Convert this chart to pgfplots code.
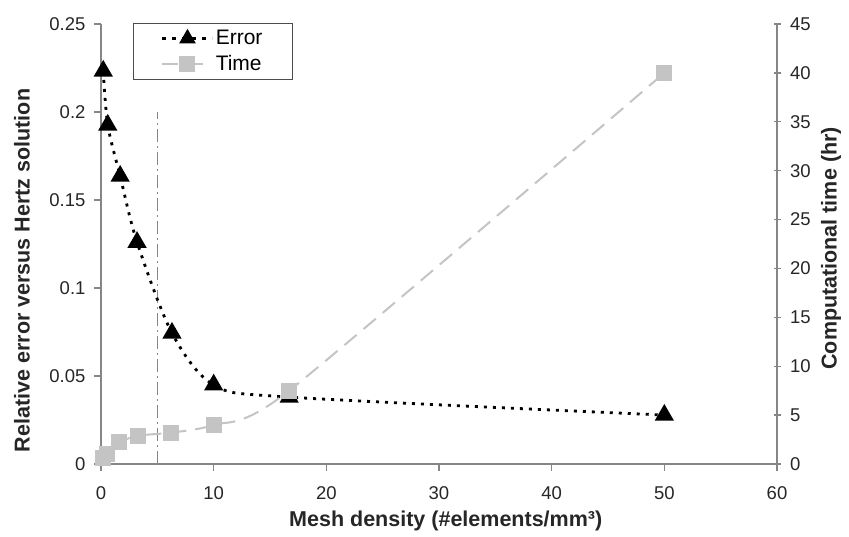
\documentclass[border=0pt]{standalone}
\usepackage{pgfplots}
\pgfplotsset{compat=1.18}
\usepackage{fontspec}
\setmainfont{Liberation Sans}
\definecolor{axgray}{HTML}{868686}
\definecolor{timegray}{HTML}{C4C4C4}
\begin{document}
\begin{tikzpicture}
\pgfplotsset{
  common/.style={
    scale only axis, width=676pt, height=440pt, at={(0,0)}, anchor=south west,
    xmin=0, xmax=60,
    axis line style={axgray, line width=1.3pt, -},
    every tick/.style={axgray, line width=1.3pt},
    major tick length=7pt,
    tick label style={font=\fontsize{18.5}{20}\selectfont, text=black!85},
    label style={font=\bfseries\fontsize{21.5}{24}\selectfont, text=black!85},
    /pgf/number format/assume math mode=true,
    legend image code/.code={\draw[mark repeat=2,mark phase=2,##1] plot coordinates {(0pt,0pt) (25pt,0pt) (50pt,0pt)};},
  }
}
\begin{axis}[common,
  axis x line*=bottom, axis y line*=left,
  ymin=0, ymax=0.25,
  ytick={0,0.05,0.1,0.15,0.2,0.25},
  yticklabels={0,0.05,0.1,0.15,0.2,0.25},
  xtick={0,10,20,30,40,50,60},
  tick align=outside,
  xticklabel style={yshift=-12pt},
  yticklabel style={xshift=-5pt},
  xlabel={Mesh density (\#elements/mm³)},
  ylabel={Relative error versus Hertz solution},
  xlabel style={at={(rel axis cs:0.51,-0.13)}, anchor=center},
  ylabel style={at={(rel axis cs:-0.117,0.44)}, anchor=center},
]
\addplot[axgray, line width=1.3pt, dash pattern=on 13pt off 4pt on 2pt off 4pt] coordinates {(5,0) (5,0.2)};
\addplot[black, line width=2.8pt, dash pattern=on 3pt off 6pt, smooth,
  mark=triangle*, mark size=8.3pt, mark options={solid, fill=black}]
  coordinates {(0.2,0.2233) (0.6,0.1926) (1.7,0.1636) (3.2,0.126) (6.3,0.0744) (10,0.045) (16.7,0.038) (50,0.0278)};
\end{axis}
\begin{axis}[common,
  axis y line*=right, axis x line=none,
  ymin=0, ymax=45, ytick={0,5,10,15,20,25,30,35,40,45},
  tick align=center,
  yticklabel style={xshift=6pt},
  ylabel={Computational time (hr)},
  ylabel style={at={(rel axis cs:1.08,0.49)}, anchor=center},
  legend style={at={(rel axis cs:0.047,1.002)}, anchor=north west, draw=black!70, line width=0.8pt,
    font=\fontsize{21}{23}\selectfont, inner xsep=28pt, inner ysep=5pt, row sep=5pt,
    /tikz/every even column/.append style={column sep=6pt}},
  legend cell align=left,
]
\addlegendimage{black, line width=2.6pt, dash pattern=on 4pt off 6pt, mark=triangle*, mark size=7pt, mark options={solid, fill=black}}
\addlegendentry{Error}
\addplot[timegray, line width=2pt, dash pattern=on 16pt off 9pt, smooth, tension=0.4,
  mark=square*, mark size=7pt, mark options={solid, fill=timegray}]
  coordinates {(0.2,0.6) (0.5,1.0) (1.6,2.2) (3.3,2.9) (6.2,3.2) (10,4.0) (16.7,7.5) (50,40)};
\addlegendentry{Time}
\end{axis}
\pgfresetboundingbox
\path[use as bounding box] (-101pt,-73pt) rectangle (748pt,464pt);
\end{tikzpicture}
\end{document}
